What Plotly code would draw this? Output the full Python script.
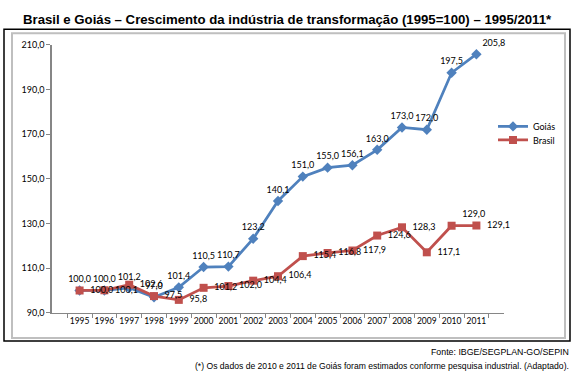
import plotly.graph_objects as go

years = ["1995", "1996", "1997", "1998", "1999", "2000", "2001", "2002", "2003",
         "2004", "2005", "2006", "2007", "2008", "2009", "2010", "2011"]
goias = [100.0, 100.0, 101.2, 97.0, 101.4, 110.5, 110.7, 123.2, 140.1,
         151.0, 155.0, 156.1, 163.0, 173.0, 172.0, 197.5, 205.8]
brasil = [100.0, 100.1, 102.6, 97.5, 95.8, 101.2, 102.0, 104.4, 106.4,
          115.4, 116.8, 117.9, 124.6, 128.3, 117.1, 129.0, 129.1]
y_ticks = [90, 110, 130, 150, 170, 190, 210]

W, H = 574, 379
def px(x):
    return x / W
def py(y):
    return 1 - y / H

LBL = "Liberation Sans, Arial, sans-serif"
CHF = "Lato, Open Sans, sans-serif"

goias_pos = ["top center"] * (len(years) - 1) + ["top right"]
brasil_pos = ["middle right"] * (len(years) - 2) + ["top right", "middle right"]

fig = go.Figure()
fig.add_trace(go.Scatter(
    x=years, y=goias, name="Goiás", mode="lines+markers+text",
    line=dict(color="#4F81BD", width=2.75),
    marker=dict(symbol="diamond", size=8, color="#4F81BD"),
    texttemplate="%{y:.1f}", textposition=goias_pos, cliponaxis=False,
    textfont=dict(family=CHF, size=9, color="#000000"),
    legend="legend",
))
fig.add_trace(go.Scatter(
    x=years, y=brasil, name="Brasil", mode="lines+markers+text",
    line=dict(color="#C0504D", width=2.75),
    marker=dict(symbol="square", size=8, color="#C0504D"),
    texttemplate="  %{y:.1f}", textposition=brasil_pos, cliponaxis=False,
    textfont=dict(family=CHF, size=9, color="#000000"),
    legend="legend2",
))

leg_common = dict(xanchor="left", yanchor="middle",
                  font=dict(family=CHF, size=9, color="#000"),
                  bgcolor="rgba(0,0,0,0)", itemwidth=30, tracegroupgap=0)

fig.update_layout(
    width=W, height=H,
    margin=dict(l=0, r=0, t=0, b=0),
    paper_bgcolor="white", plot_bgcolor="white",
    separators=",.",
    showlegend=True,
    legend=dict(x=px(493), y=py(124), **leg_common),
    legend2=dict(x=px(493), y=py(138), **leg_common),
    xaxis=dict(domain=[px(52), px(504)], type="category",
               showgrid=False, showline=True, linecolor="#868686", linewidth=1,
               ticks="outside", tickson="boundaries", ticklen=4, tickcolor="#868686",
               tickangle=0,
               tickfont=dict(family=CHF, size=8.5, color="#000"),
               anchor="y"),
    yaxis=dict(domain=[py(316), py(40)], range=[90, 210], tickvals=y_ticks,
               tickformat=".1f", showgrid=False, zeroline=False,
               showline=True, linecolor="#868686", linewidth=1.5,
               ticks="outside", ticklen=4, tickcolor="#868686",
               tickfont=dict(family=CHF, size=9, color="#000")),
)

fig.add_annotation(text="<b>Brasil e Goiás – Crescimento da indústria de transformação (1995=100) – 1995/2011*</b>",
                   xref="paper", yref="paper", x=px(287), y=py(14), xanchor="center", yanchor="middle",
                   showarrow=False, font=dict(family=LBL, size=13.2, color="#000"))
fig.add_annotation(text="Fonte: IBGE/SEGPLAN-GO/SEPIN",
                   xref="paper", yref="paper", x=px(571), y=py(356), xanchor="right", yanchor="middle",
                   showarrow=False, font=dict(family=LBL, size=8.8, color="#000"))
fig.add_annotation(text="(*) Os dados de 2010 e 2011 de Goiás foram estimados conforme pesquisa industrial. (Adaptado).",
                   xref="paper", yref="paper", x=px(571), y=py(371), xanchor="right", yanchor="middle",
                   showarrow=False, font=dict(family=LBL, size=8.6, color="#000"))

fig.add_shape(type="rect", xref="paper", yref="paper", x0=px(4), x1=px(570), y0=py(345), y1=py(24),
              line=dict(color="#000000", width=1.5), fillcolor="rgba(0,0,0,0)", layer="below")
fig.add_shape(type="rect", xref="paper", yref="paper", x0=px(12), x1=px(565), y0=py(342), y1=py(28),
              line=dict(color="#BFBFBF", width=2), fillcolor="rgba(0,0,0,0)", layer="below")

fig.write_html("out.html", config={"displayModeBar": False})
with open("out.html", encoding="utf-8") as f:
    html = f.read()
html = html.replace("<head>", "<head><style>html,body{margin:0;padding:0;overflow:hidden;}</style>", 1)
with open("out.html", "w", encoding="utf-8") as f:
    f.write(html)
